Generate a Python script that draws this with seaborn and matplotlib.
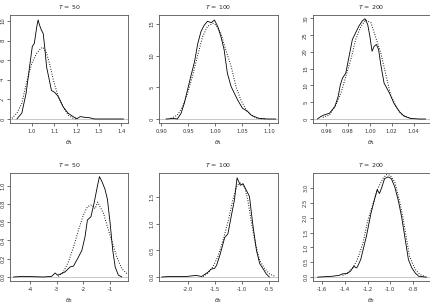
import numpy as np
import pandas as pd
import matplotlib
matplotlib.use('Agg')
import matplotlib.pyplot as plt
import seaborn as sns

# ---- data (posterior density estimates) ----
# top row: theta_1 for T = 50, 100, 200
t50_sol_x = [0.932, 0.954, 0.973, 0.991, 1.001, 1.010, 1.021, 1.027, 1.033, 1.041, 1.050, 1.058, 1.065,
             1.077, 1.087, 1.102, 1.117, 1.139, 1.161, 1.184, 1.201, 1.216, 1.236, 1.255, 1.28, 1.33, 1.41]
t50_sol_y = [0.0, 0.6, 2.6, 5.7, 7.4, 7.7, 9.4, 10.1, 9.6, 9.1, 8.7, 7.0, 5.3,
             4.0, 2.9, 2.7, 2.3, 1.25, 0.6, 0.24, 0.03, 0.24, 0.17, 0.14, 0.0, 0.0, 0.0]
t50_dot_x = [0.910, 0.932, 0.954, 0.976, 0.999, 1.021, 1.039, 1.050, 1.065, 1.080, 1.095, 1.117, 1.139,
             1.161, 1.184, 1.2]
t50_dot_y = [0.07, 0.6, 1.6, 3.8, 5.7, 6.7, 7.2, 7.3, 6.7, 5.5, 4.0, 2.3, 1.25, 0.4, 0.07, 0.0]

t100_sol_x = [0.909, 0.924, 0.930, 0.937, 0.943, 0.949, 0.955, 0.962, 0.968, 0.974, 0.980, 0.986, 0.993,
              0.999, 1.005, 1.011, 1.017, 1.023, 1.030, 1.036, 1.042, 1.051, 1.061, 1.067, 1.073, 1.082,
              1.098, 1.113]
t100_sol_y = [0.0, 0.1, 0.0, 0.9, 2.5, 4.6, 6.7, 9.05, 11.9, 13.8, 14.8, 15.4, 15.2,
              15.6, 14.6, 13.0, 10.9, 7.2, 5.1, 4.05, 3.0, 1.7, 1.16, 0.63, 0.37, 0.1, 0.0, 0.0]
t100_dot_x = [0.918, 0.930, 0.940, 0.949, 0.958, 0.968, 0.977, 0.986, 0.996, 1.002, 1.011, 1.020, 1.030,
              1.039, 1.048, 1.058, 1.067, 1.079, 1.092]
t100_dot_y = [0.1, 0.6, 1.95, 4.05, 6.7, 10.1, 13.0, 14.6, 15.1, 14.8, 13.5, 10.9, 8.3,
              5.1, 3.0, 1.4, 0.63, 0.1, 0.0]

t200_sol_x = [0.952, 0.955, 0.958, 0.963, 0.968, 0.971, 0.973, 0.975, 0.978, 0.981, 0.984, 0.987, 0.990,
              0.993, 0.9955, 0.998, 1.000, 1.002, 1.004, 1.006, 1.008, 1.010, 1.013, 1.018, 1.022, 1.027,
              1.031, 1.037, 1.045, 1.051]
t200_sol_y = [0.0, 0.7, 1.2, 1.7, 3.7, 6.7, 10.2, 12.2, 13.7, 18.7, 23.7, 25.7, 27.7,
              29.2, 29.9, 28.2, 24.7, 20.2, 21.7, 22.2, 20.7, 16.2, 10.7, 7.7, 4.7, 2.2,
              0.9, 0.2, 0.0, 0.0]
t200_dot_x = [0.957, 0.963, 0.969, 0.974, 0.978, 0.983, 0.987, 0.992, 0.996, 1.001, 1.005, 1.010, 1.015,
              1.019, 1.024, 1.028, 1.033, 1.039]
t200_dot_y = [0.5, 1.2, 4.2, 8.2, 12.7, 18.2, 23.7, 27.7, 29.5, 28.7, 24.7, 19.7, 12.7,
              7.2, 3.7, 1.7, 0.7, 0.0]

# bottom row: theta_2 for T = 50, 100, 200
b50_sol_x = [-4.62, -4.25, -3.5, -3.19, -3.06, -2.97, -2.88, -2.69, -2.5, -2.37, -2.22, -2.06, -1.94,
             -1.85, -1.72, -1.6, -1.5, -1.40, -1.31, -1.19, -1.1, -1.0, -0.9, -0.81, -0.69, -0.56]
b50_sol_y = [0.0, 0.007, 0.0, 0.007, 0.044, 0.02, 0.03, 0.055, 0.11, 0.12, 0.2, 0.29, 0.44,
             0.625, 0.66, 0.81, 0.96, 1.10, 1.05, 0.96, 0.85, 0.59, 0.29, 0.11, 0.02, 0.0]
b50_dot_x = [-2.94, -2.75, -2.56, -2.37, -2.19, -2.0, -1.85, -1.69, -1.56, -1.47, -1.25, -1.12, -0.94,
             -0.75, -0.56, -0.34]
b50_dot_y = [0.007, 0.055, 0.165, 0.33, 0.51, 0.68, 0.77, 0.79, 0.75, 0.82, 0.70, 0.57, 0.40,
             0.22, 0.09, 0.03]

b100_sol_x = [-2.49, -2.34, -2.03, -1.85, -1.75, -1.69, -1.63, -1.57, -1.51, -1.47, -1.40, -1.32, -1.26,
              -1.20, -1.14, -1.09, -1.03, -0.98, -0.92, -0.86, -0.80, -0.73, -0.67, -0.61, -0.55, -0.49]
b100_sol_y = [0.0, 0.01, 0.01, 0.03, 0.01, 0.05, 0.09, 0.15, 0.16, 0.22, 0.44, 0.74, 0.81,
              1.13, 1.44, 1.86, 1.72, 1.75, 1.63, 1.51, 1.0, 0.5, 0.25, 0.16, 0.06, 0.0]
b100_dot_x = [-1.72, -1.63, -1.54, -1.45, -1.35, -1.26, -1.17, -1.09, -1.03, -0.95, -0.89, -0.83, -0.75,
              -0.67, -0.58, -0.49, -0.38]
b100_dot_y = [0.01, 0.075, 0.19, 0.375, 0.69, 1.03, 1.44, 1.72, 1.76, 1.69, 1.44, 1.06, 0.625,
              0.31, 0.16, 0.06, 0.01]

b200_sol_x = [-1.64, -1.51, -1.45, -1.42, -1.38, -1.35, -1.32, -1.30, -1.29, -1.26, -1.21, -1.17, -1.14,
              -1.115, -1.095, -1.075, -1.05, -1.02, -0.99, -0.96, -0.93, -0.90, -0.87, -0.84, -0.81,
              -0.78, -0.75, -0.68]
b200_sol_y = [0.0, 0.03, 0.06, 0.11, 0.12, 0.2, 0.37, 0.31, 0.34, 0.59, 1.37, 2.14, 2.59,
              2.94, 2.81, 3.01, 3.31, 3.37, 3.31, 3.03, 2.59, 2.03, 1.31, 0.59, 0.31,
              0.14, 0.03, 0.0]
b200_dot_x = [-1.42, -1.38, -1.33, -1.29, -1.24, -1.20, -1.15, -1.11, -1.06, -1.03, -1.0, -0.96, -0.92,
              -0.89, -0.86, -0.83, -0.78, -0.74, -0.70]
b200_dot_y = [0.06, 0.14, 0.31, 0.59, 1.14, 1.87, 2.48, 2.98, 3.34, 3.45, 3.42, 3.2, 2.59,
              2.03, 1.37, 0.7, 0.26, 0.09, 0.03]

titles = ['$T$ = 50', '$T$ = 100', '$T$ = 200']
xlabels = [r'$\theta_1$', r'$\theta_2$']

panels = [
    # (solid x, solid y, dotted x, dotted y, xticks, xticklabels, xlim, yticks, yticklabels, ylim)
    (t50_sol_x, t50_sol_y, t50_dot_x, t50_dot_y,
     [1.0, 1.1, 1.2, 1.3, 1.4], ['1.0', '1.1', '1.2', '1.3', '1.4'], (0.901, 1.43),
     [0, 2, 4, 6, 8, 10], ['0', '2', '4', '6', '8', '10'], (-0.41, 10.6)),
    (t100_sol_x, t100_sol_y, t100_dot_x, t100_dot_y,
     [0.90, 0.95, 1.00, 1.05, 1.10], ['0.90', '0.95', '1.00', '1.05', '1.10'], (0.896, 1.117),
     [0, 5, 10, 15], ['0', '5', '10', '15'], (-0.63, 16.4)),
    (t200_sol_x, t200_sol_y, t200_dot_x, t200_dot_y,
     [0.96, 0.98, 1.00, 1.02, 1.04], ['0.96', '0.98', '1.00', '1.02', '1.04'], (0.948, 1.055),
     [0, 5, 10, 15, 20, 25, 30], ['0', '5', '10', '15', '20', '25', '30'], (-1.19, 31.0)),
    (b50_sol_x, b50_sol_y, b50_dot_x, b50_dot_y,
     [-4, -3, -2, -1], ['-4', '-3', '-2', '-1'], (-4.75, -0.33),
     [0, 0.2, 0.4, 0.6, 0.8, 1.0], ['0.0', '0.2', '0.4', '0.6', '0.8', '1.0'], (-0.044, 1.14)),
    (b100_sol_x, b100_sol_y, b100_dot_x, b100_dot_y,
     [-2.0, -1.5, -1.0, -0.5], ['-2.0', '-1.5', '-1.0', '-0.5'], (-2.54, -0.33),
     [0, 0.5, 1.0, 1.5], ['0.0', '0.5', '1.0', '1.5'], (-0.075, 1.95)),
    (b200_sol_x, b200_sol_y, b200_dot_x, b200_dot_y,
     [-1.6, -1.4, -1.2, -1.0, -0.8], ['-1.6', '-1.4', '-1.2', '-1.0', '-0.8'], (-1.68, -0.65),
     [0, 0.5, 1.0, 1.5, 2.0, 2.5, 3.0], ['0.0', '0.5', '1.0', '1.5', '2.0', '2.5', '3.0'], (-0.13, 3.5)),
]

sns.set_style('white')
plt.rcParams['font.family'] = ['DejaVu Sans']
plt.rcParams['mathtext.fontset'] = 'dejavusans'

W, H = 431, 304
fig = plt.figure(figsize=(W / 100, H / 100), dpi=100)

# axes boxes in pixels: (left, right) per column, (top, bottom) per row
cols = [(10, 128), (159, 278), (313, 430)]
rows = [(15, 123), (173, 281)]

for i, p in enumerate(panels):
    sx, sy, dx, dy, xt, xtl, xl, yt, ytl, yl = p
    r, c = divmod(i, 3)
    x0, x1 = cols[c]
    y0, y1 = rows[r]
    ax = fig.add_axes([x0 / W, 1 - y1 / H, (x1 - x0) / W, (y1 - y0) / H])

    ax.axhline(0, color='#bdbdbd', lw=0.6, zorder=1)
    sns.lineplot(x=sx, y=sy, ax=ax, color='black', lw=0.6, sort=False, estimator=None)
    sns.lineplot(x=dx, y=dy, ax=ax, color='black', lw=0.75, linestyle=(0, (0.8, 1.6)),
                 sort=False, estimator=None)

    ax.set_xlim(*xl)
    ax.set_ylim(*yl)
    ax.set_xticks(xt)
    ax.set_xticklabels(xtl)
    ax.set_yticks(yt)
    ax.set_yticklabels(ytl, rotation=90, va='center')
    ax.tick_params(axis='both', direction='out', length=2, width=0.5, pad=1.5,
                   labelsize=3.8, colors='#333333', bottom=True, left=True)
    ax.tick_params(axis='x', pad=2.5)
    for s in ax.spines.values():
        s.set_color('#555555')
        s.set_linewidth(0.6)
    ax.set_title(titles[c], fontsize=4.5, pad=4.5)
    ax.set_xlabel(xlabels[r], fontsize=4.5, labelpad=3)
    ax.set_ylabel('')
    ax.grid(False)

fig.savefig('out.png', dpi=100)
